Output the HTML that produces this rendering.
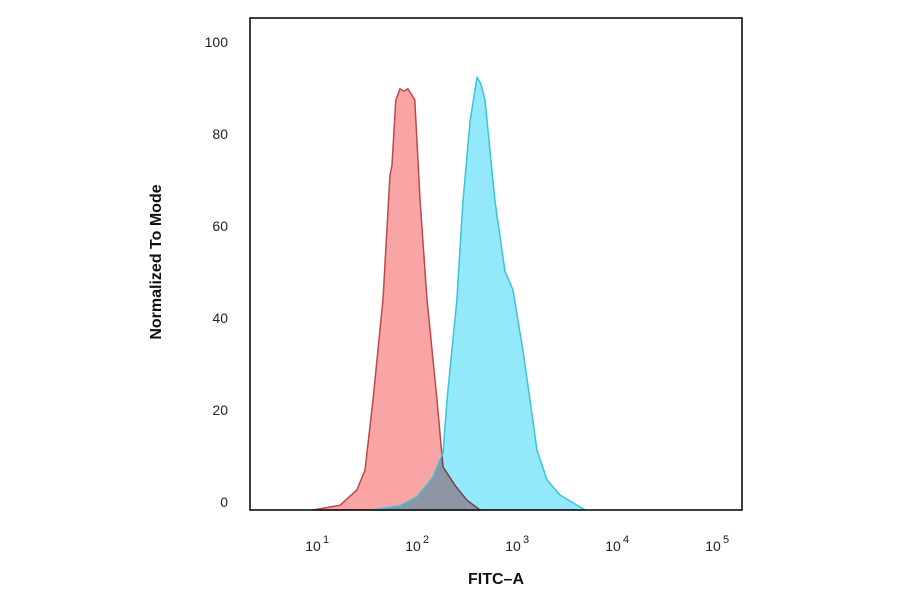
<!DOCTYPE html>
<html><head><meta charset="utf-8"><style>
html,body{margin:0;padding:0;background:#fff;}
svg{display:block;font-family:"Liberation Sans",sans-serif;}
</style></head><body>
<svg id="chart" width="900" height="594" viewBox="0 0 900 594">
<g id="plot"></g>
<rect x="250" y="18" width="492" height="492" fill="none" stroke="#111" stroke-width="1.6"/>
<g id="yticks"></g>
<g id="xticks"></g>
<text x="161" y="262" transform="rotate(-90 161 262)" text-anchor="middle" font-size="16" font-weight="bold" fill="#111">Normalized To Mode</text>
<text x="496" y="584" text-anchor="middle" font-size="16" font-weight="bold" fill="#111">FITC–A</text>
</svg>
<script>
const yTicks = [0, 20, 40, 60, 80, 100];
const xDecades = [1, 2, 3, 4, 5];
const controlFluor = [8.9, 16.6, 24.5, 29.5, 35.5, 44.7, 52.5, 55, 60, 66, 72, 79, 85, 93, 105, 123, 155, 178, 234, 309, 417];
const controlCount = [0, 1, 4.3, 8.5, 23.5, 45, 71.6, 73.7, 87.6, 90, 89.5, 90, 89, 87.6, 66, 45, 23.5, 9.2, 5.3, 2.1, 0];
const stainedFluor = [35, 66, 98, 141, 178, 195, 245, 282, 331, 389, 427, 468, 589, 741, 891, 1122, 1318, 1549, 1950, 2630, 4677];
const stainedCount = [0, 0.9, 2.8, 7, 12.2, 23.5, 45, 66, 83, 92.5, 91, 87.6, 66, 51, 47, 34, 23.5, 12.8, 6.4, 3.2, 0];

const NS = "http://www.w3.org/2000/svg";
function xs(v){ return 218 + 100*Math.log10(v); }
function ys(v){ return 510 - 4.68*v; }
function labelY(v){ return 502 - 4.6*v; }
function pathFor(xv, yv){
  let d = "M" + xs(xv[0]).toFixed(1) + "," + ys(0).toFixed(1);
  for(let i=0;i<xv.length;i++) d += " L" + xs(xv[i]).toFixed(1) + "," + ys(yv[i]).toFixed(1);
  d += " L" + xs(xv[xv.length-1]).toFixed(1) + "," + ys(0).toFixed(1) + " Z";
  return d;
}
const plot = document.getElementById("plot");
const redFill = document.createElementNS(NS,"path");
redFill.setAttribute("d", pathFor(controlFluor, controlCount));
redFill.setAttribute("fill", "#f9a5a6");
redFill.setAttribute("stroke", "#c0474a");
redFill.setAttribute("stroke-width", "1.5");
redFill.setAttribute("stroke-linejoin", "round");


plot.appendChild(redFill);
const blueFill = document.createElementNS(NS,"path");
blueFill.setAttribute("d", pathFor(stainedFluor, stainedCount));
blueFill.setAttribute("fill", "#93e8fa");
blueFill.setAttribute("style", "mix-blend-mode:multiply");


plot.appendChild(blueFill);
const blueLine = document.createElementNS(NS,"path");
blueLine.setAttribute("d", pathFor(stainedFluor, stainedCount));
blueLine.setAttribute("fill", "none");
blueLine.setAttribute("stroke", "#3cc2df");
blueLine.setAttribute("stroke-width", "1.5");
blueLine.setAttribute("stroke-linejoin", "round");


plot.appendChild(blueLine);

const yg = document.getElementById("yticks");
yTicks.forEach(t=>{
  const tx = document.createElementNS(NS,"text");
  tx.setAttribute("x","228");
  tx.setAttribute("y",(labelY(t)+5).toFixed(1));
  tx.setAttribute("text-anchor","end");
  tx.setAttribute("font-size","14");
  tx.setAttribute("fill","#222");
  tx.textContent = t;
  
  
  yg.appendChild(tx);
});
const xg = document.getElementById("xticks");
xDecades.forEach(d=>{
  const x = xs(Math.pow(10,d));
  const tx = document.createElementNS(NS,"text");
  tx.setAttribute("x",(x-5).toFixed(1));
  tx.setAttribute("y","551");
  tx.setAttribute("text-anchor","middle");
  tx.setAttribute("font-size","14");
  tx.setAttribute("fill","#222");
  tx.textContent = "10";
  
  
  xg.appendChild(tx);
  const ex = document.createElementNS(NS,"text");
  ex.setAttribute("x",(x+5).toFixed(1));
  ex.setAttribute("y","543");
  ex.setAttribute("font-size","11");
  ex.setAttribute("fill","#222");
  ex.textContent = d;
  
  
  xg.appendChild(ex);
});
</script>
</body></html>
